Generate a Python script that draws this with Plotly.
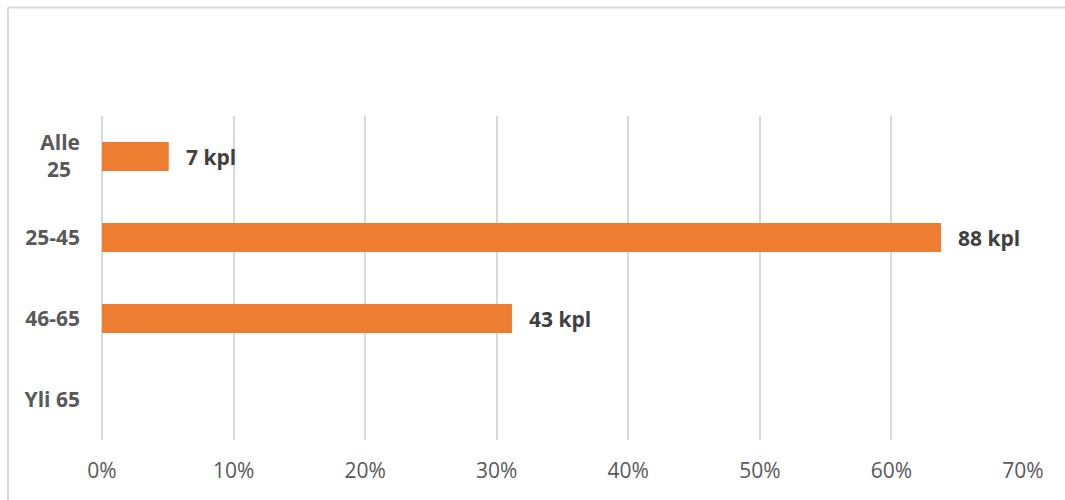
import plotly.graph_objects as go

# Age groups and number of people in each group
categories = ["Alle 25", "25-45", "46-65", "Yli 65"]
tick_labels = ["Alle<br>25\u00a0\u2009", "25-45", "46-65", "Yli 65"]
counts = [7, 88, 43, 0]
count_labels = ["7 kpl", "88 kpl", "43 kpl", ""]

total = sum(counts)
shares = [c / total for c in counts]

W, H = 1065, 500
ML, MR, MT, MB = 102, 42, 116, 60
PW, PH = W - ML - MR, H - MT - MB

def px_x(p):
    return (p - ML) / PW

def px_y(p):
    return (H - MB - p) / PH

BAR = "#ED7D31"
GRID = "#d9d9d9"
TICK = "#595959"
LABEL = "#404040"
FONT = "Open Sans"

fig = go.Figure(
    go.Bar(
        x=shares,
        y=categories,
        orientation="h",
        marker=dict(color=BAR, line=dict(width=0)),
        hoverinfo="skip",
    )
)

for cat, val, txt in zip(categories, shares, count_labels):
    if not txt:
        continue
    fig.add_annotation(
        x=val, y=cat, xref="x", yref="y",
        text=f"<b>{txt}</b>", showarrow=False,
        xanchor="left", yanchor="middle", xshift=15,
        font=dict(family=FONT, size=21, color=LABEL),
    )

# Chart frame (left and top edges)
fig.add_shape(type="line", xref="paper", yref="paper",
              x0=px_x(8), x1=px_x(8), y0=px_y(7.5), y1=px_y(520),
              line=dict(color=GRID, width=2))
fig.add_shape(type="line", xref="paper", yref="paper",
              x0=px_x(8), x1=px_x(1080), y0=px_y(7.5), y1=px_y(7.5),
              line=dict(color=GRID, width=2))

fig.update_layout(
    width=W, height=H,
    margin=dict(l=ML, r=MR, t=MT, b=MB),
    plot_bgcolor="white", paper_bgcolor="white",
    bargap=0.64,
    showlegend=False,
    font=dict(family=FONT),
)
fig.update_xaxes(
    range=[0, 0.7], dtick=0.1, tick0=0, tickformat=".0%",
    showgrid=True, gridcolor=GRID, gridwidth=2,
    zeroline=True, zerolinecolor=GRID, zerolinewidth=2,
    showline=False, ticks="",
    tickfont=dict(family=FONT, size=21, color=TICK),
    ticklabelstandoff=16,
    fixedrange=True,
)
fig.update_yaxes(
    categoryorder="array", categoryarray=categories,
    tickvals=categories, ticktext=[f"<b>{t}</b>" for t in tick_labels],
    range=[3.5, -0.5],
    showgrid=False, zeroline=False, showline=False, ticks="",
    tickfont=dict(family=FONT, size=21, color=TICK),
    ticklabelstandoff=21,
    fixedrange=True,
)

fig.write_html("out.html", config={"displayModeBar": False})
